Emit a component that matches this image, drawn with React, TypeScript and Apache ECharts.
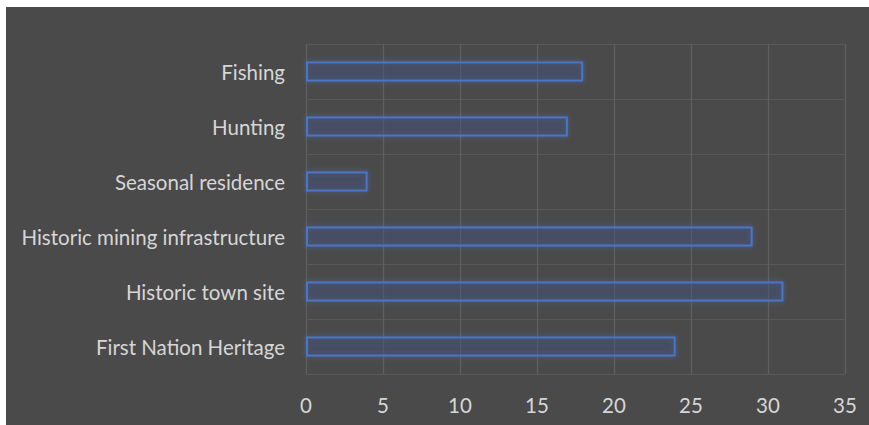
import React, { useEffect, useRef } from "react";
import * as echarts from "echarts";

const categories = [
  "First Nation Heritage",
  "Historic town site",
  "Historic mining infrastructure",
  "Seasonal residence",
  "Hunting",
  "Fishing",
];
const values = [24, 31, 29, 4, 17, 18];
const xMin = 0;
const xMax = 35;
const xInterval = 5;

export default function App() {
  const ref = useRef<HTMLDivElement>(null);
  useEffect(() => {
    if (!ref.current) return;
    const chart = echarts.init(ref.current, null, { renderer: "svg" });
    const font = "Lato, 'Open Sans', sans-serif";
    chart.setOption({
      animation: false,
      backgroundColor: "#4a4a4a",
      grid: { left: 300, right: 24, top: 37, bottom: 51 },
      xAxis: {
        type: "value",
        min: xMin,
        max: xMax,
        interval: xInterval,
        axisLine: { show: false },
        axisTick: { show: false },
        splitLine: { show: true, lineStyle: { color: "#5f5f5f", width: 1.3 } },
        axisLabel: { color: "#d6d6d6", fontSize: 20.5, fontFamily: font, margin: 20 },
      },
      yAxis: {
        type: "category",
        data: categories,
        axisLine: { show: false },
        axisTick: { show: false },
        splitLine: { show: true, lineStyle: { color: "#585858", width: 1 } },
        axisLabel: { color: "#d6d6d6", fontSize: 20.5, fontFamily: font, margin: 21 },
      },
      series: [
        {
          type: "bar",
          data: values,
          barWidth: 20,
          itemStyle: {
            color: "rgba(55,55,55,0.3)",
            borderColor: "#4a76c6",
            borderWidth: 2,
            shadowColor: "rgba(80,120,210,0.6)",
            shadowBlur: 5,
          },
        },
      ],
    });
    return () => chart.dispose();
  }, []);
  return (
    <div style={{ position: "fixed", left: 0, top: 0, width: 869, height: 425, background: "#fff" }}>
      <div ref={ref} style={{ position: "absolute", left: 6, top: 7, width: 863, height: 418 }} />
    </div>
  );
}
